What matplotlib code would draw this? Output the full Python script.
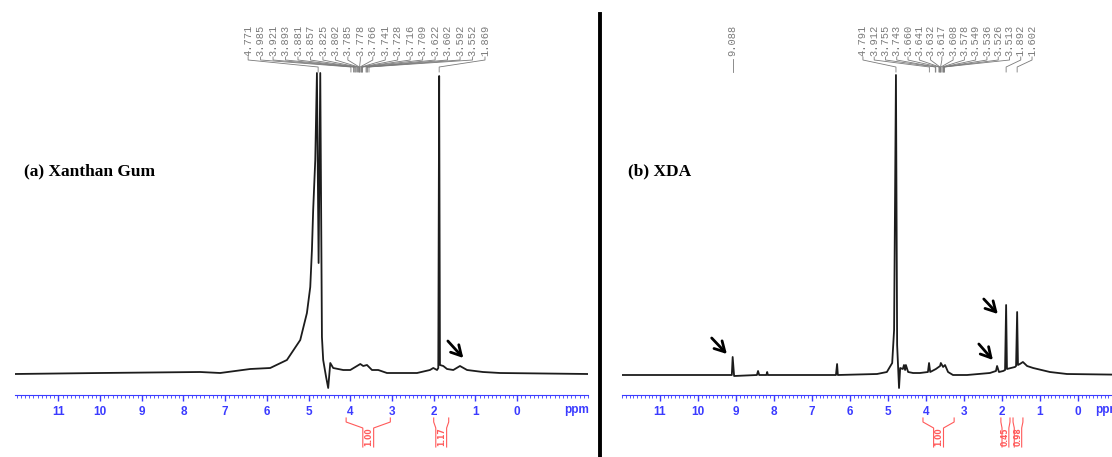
import matplotlib
matplotlib.use('Agg')
import matplotlib.pyplot as plt
import numpy as np
from matplotlib.lines import Line2D
from matplotlib.ticker import MultipleLocator

# (a) Xanthan gum 1H NMR trace (ppm, intensity a.u.)
xg_ppm = [12.04, 10.0, 7.60, 7.12, 6.40, 5.92, 5.52, 5.20, 5.04, 4.96, 4.92, 4.89,
          4.84, 4.80, 4.76, 4.72, 4.68, 4.65, 4.58, 4.53, 4.48, 4.41, 4.17, 4.00,
          3.76, 3.69, 3.60, 3.48, 3.33, 3.12, 2.40, 2.09, 2.01, 1.92, 1.89, 1.869,
          1.85, 1.77, 1.68, 1.53, 1.37, 1.20, 0.82, 0.41, -1.70]
xg_int = [-1, 0, 1, 0, 4, 5, 13, 33, 60, 86, 123, 163,
          213, 300, 110, 300, 36, 13, -4, -15, 10, 5, 3, 3,
          9, 7, 8, 3, 3, 0, 0, 3, 5, 3, 5, 297,
          8, 7, 4, 3, 7, 3, 1, 0, -1]
xg_labels = ['4.771', '3.985', '3.921', '3.893', '3.881', '3.857', '3.825', '3.802',
             '3.785', '3.778', '3.766', '3.741', '3.728', '3.716', '3.709', '3.622',
             '3.602', '3.592', '3.552', '1.869']
xg_integrals = [(4.10, 3.04, '1.00'), (2.00, 1.64, '1.17')]

# (b) XDA 1H NMR trace
xda_ppm = [12.0, 9.95, 9.11, 9.088, 9.05, 8.45, 8.42, 8.39, 8.20, 8.18, 8.16, 7.32,
           6.37, 6.34, 6.32, 5.29, 5.03, 4.89, 4.84, 4.791, 4.76, 4.71, 4.68, 4.61,
           4.58, 4.55, 4.53, 4.47, 4.34, 4.16, 3.95, 3.92, 3.89, 3.74, 3.63, 3.61,
           3.55, 3.50, 3.42, 3.29, 2.92, 2.32, 2.16, 2.13, 2.08, 1.97, 1.92, 1.892,
           1.87, 1.66, 1.63, 1.602, 1.58, 1.53, 1.45, 1.34, 1.18, 0.74, 0.29, -1.71]
xda_int = [-2, -2, -2, 16, -3, -2, 2, -2, -2, 1, -2, -2,
           -2, 9, -2, -1, 1, 10, 43, 298, 28, -15, 5, 4,
           8, 3, 8, 1, 0, 0, 1, 10, 1, 4, 7, 10,
           6, 8, 1, -2, -2, 0, 2, 7, 1, 2, 3, 68,
           4, 6, 7, 61, 8, 9, 11, 7, 5, 1, -1, -2]
xda_labels = ['4.791', '3.912', '3.755', '3.743', '3.660', '3.641', '3.632', '3.617',
              '3.608', '3.578', '3.549', '3.536', '3.526', '3.513', '1.892', '1.602']
xda_integrals = [(4.08, 3.26, '1.00'), (2.03, 1.79, '0.45'), (1.71, 1.45, '0.98')]

W, H = 1112, 457
BLUE = '#3b3bff'
RED = '#ff5a5a'
GREY = '#7a7a7a'

fig = plt.figure(figsize=(W / 100, H / 100), dpi=100)


def px_axes(x0, x1):
    return [x0 / W, (H - 395) / H, (x1 - x0) / W, 395 / H]


def draw_panel(ax, ppm, inten, labels, lab_span, integrals, ppm_x, xlim):
    ax.plot(ppm, inten, color='#1c1c1c', lw=1.3)
    ax.set_xlim(*xlim)
    ax.set_ylim(-22, 373)
    for s in ['top', 'left', 'right']:
        ax.spines[s].set_visible(False)
    ax.spines['bottom'].set_color(BLUE)
    ax.set_yticks([])
    ax.set_xticks(range(11, -1, -1))
    ax.xaxis.set_minor_locator(MultipleLocator(0.1))
    ax.tick_params(axis='x', which='major', colors=BLUE, length=4, width=1,
                   labelsize=8.5, pad=4)
    ax.tick_params(axis='x', which='minor', colors=BLUE, length=2, width=0.6)
    for t in ax.get_xticklabels():
        t.set_fontweight('bold')
        t.set_family(['Liberation Sans', 'DejaVu Sans'])
    ax.text(ppm_x, -37, 'ppm', color=BLUE, fontsize=8.5, fontweight='bold',
            family=['Liberation Sans', 'DejaVu Sans'], ha='left', va='center',
            clip_on=False)

    # peak-pick labels with connectors
    lab_x = np.linspace(lab_span[0], lab_span[1], len(labels))
    for lx, lab in zip(lab_x, labels):
        p = float(lab)
        ax.text(lx, 317, lab, rotation=90, ha='center', va='bottom',
                fontsize=7.5, color=GREY, family=['Liberation Mono', 'DejaVu Sans Mono'],
                clip_on=False)
        ax.plot([lx, lx, p, p], [316, 313, 306, 301], color=GREY, lw=0.6,
                clip_on=False)

    # integrals under the axis
    for a, b, txt in integrals:
        c = (a + b) / 2
        inner = min(0.13, (a - b) / 2 * 0.75)
        ax.plot([a, a, c + inner, c + inner], [-45, -49, -55, -74], color=RED,
                lw=0.8, clip_on=False)
        ax.plot([b, b, c - inner, c - inner], [-45, -49, -55, -74], color=RED,
                lw=0.8, clip_on=False)
        ax.text(c, -64, txt, rotation=90, ha='center', va='center', color=RED,
                fontsize=5.5, fontweight='bold', clip_on=False)


ax1 = fig.add_axes(px_axes(15, 588))
draw_panel(ax1, xg_ppm, xg_int, xg_labels, (6.45, 0.77), xg_integrals,
           -1.13, (12.04, -1.70))

ax2 = fig.add_axes(px_axes(622, 1143))
draw_panel(ax2, xda_ppm, xda_int, xda_labels, (5.66, 1.21), xda_integrals,
           -0.45, (12.0, -1.71))

# lone 9.088 label in (b)
ax2.text(9.088, 317, '9.088', rotation=90, ha='center', va='bottom', fontsize=7.5,
         color=GREY, family=['Liberation Mono', 'DejaVu Sans Mono'])
ax2.plot([9.088, 9.088], [314, 301], color=GREY, lw=0.6)

# arrows
arrow = dict(arrowstyle='->,head_length=0.45,head_width=0.25', lw=2, color='black',
             mutation_scale=16, shrinkA=0, shrinkB=0)
ax1.annotate('', xy=(1.29, 15), xytext=(1.66, 32), arrowprops=arrow)
ax2.annotate('', xy=(9.24, 19), xytext=(9.64, 35), arrowprops=arrow)
ax2.annotate('', xy=(2.11, 59), xytext=(2.48, 74), arrowprops=arrow)
ax2.annotate('', xy=(2.24, 13), xytext=(2.61, 29), arrowprops=arrow)

# panel titles
serif = ['Liberation Serif', 'DejaVu Serif']
fig.text(24 / W, 1 - 171 / H, '(a) Xanthan Gum', fontsize=12.5, fontweight='bold',
         family=serif, va='center')
fig.text(628 / W, 1 - 171 / H, '(b) XDA', fontsize=12.5, fontweight='bold',
         family=serif, va='center')

# divider between the panels
fig.add_artist(Line2D([600 / W, 600 / W], [0, 1 - 14 / H], transform=fig.transFigure,
                      color='black', lw=2.8))

fig.savefig('out.png', dpi=100)
